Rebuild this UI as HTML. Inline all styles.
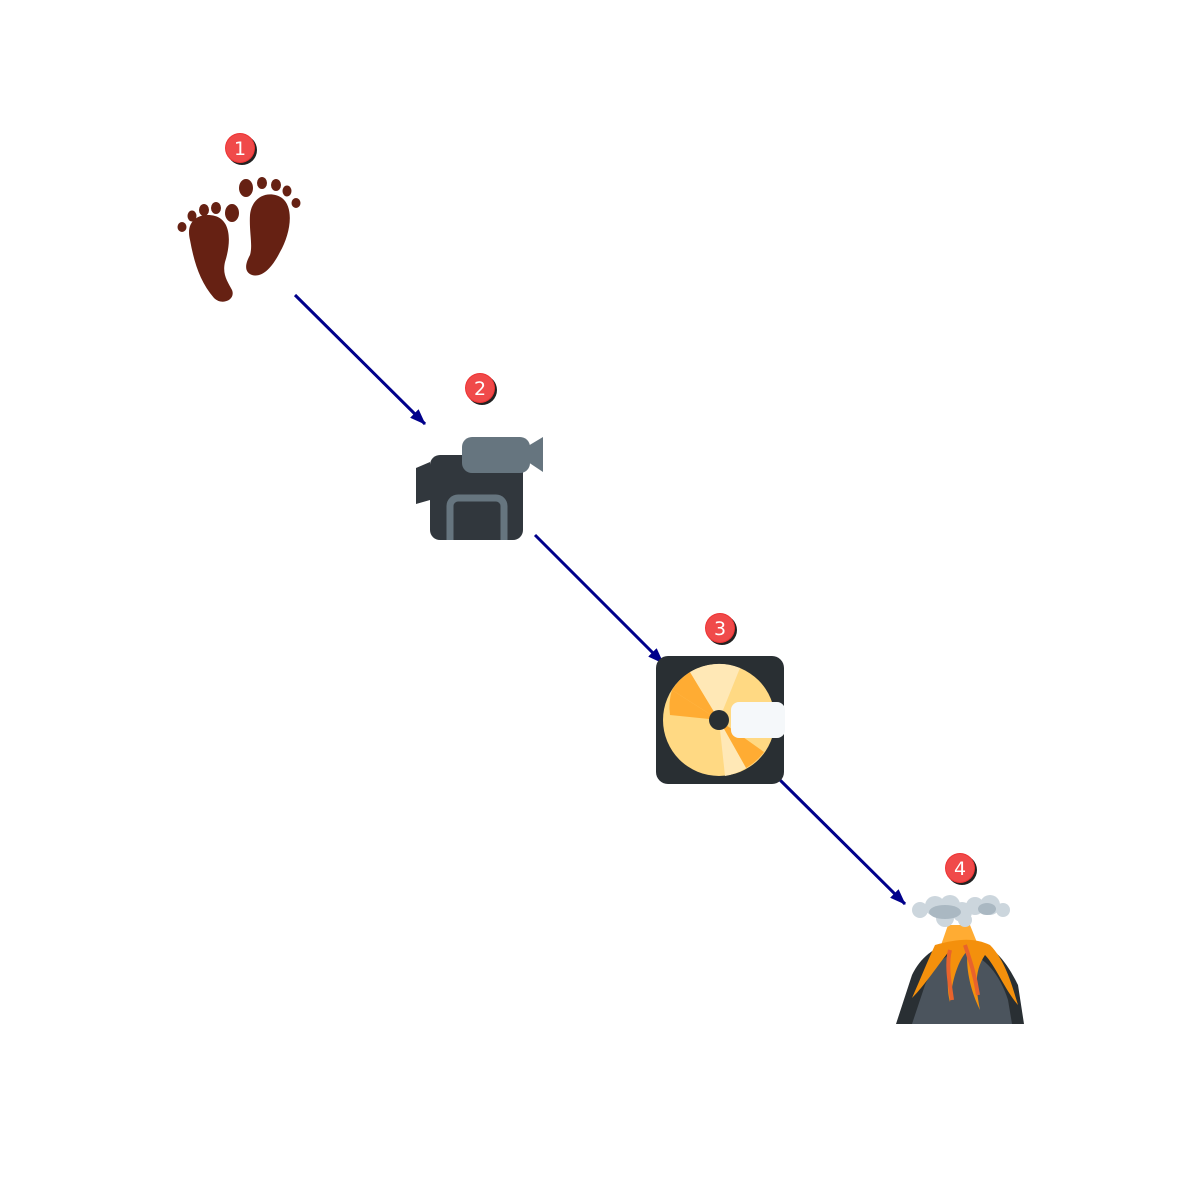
<!DOCTYPE html>
<html><head><meta charset="utf-8"><style>html,body{margin:0;padding:0;background:#fff}svg{display:block}</style></head>
<body>
<svg width="1200" height="1200" viewBox="0 0 1200 1200" xmlns="http://www.w3.org/2000/svg">
<defs>
<marker id="ah" markerWidth="16" markerHeight="12" refX="15" refY="6" orient="auto" markerUnits="userSpaceOnUse">
<path d="M0,0 L16,6 L0,12 z" fill="#00008b"/></marker>
<g id="badge">
<circle cx="2" cy="2" r="15" fill="#222"/>
<circle cx="0" cy="0" r="15" fill="#e33"/>
<circle cx="0" cy="0" r="14" fill="#f04a4a"/>
</g>
<clipPath id="camclip"><rect x="430" y="455" width="93" height="85" rx="10"/></clipPath>
</defs>
<g stroke="#00008b" stroke-width="3" fill="none" marker-end="url(#ah)">
<line x1="295" y1="295" x2="425" y2="424"/>
<line x1="535" y1="535" x2="663" y2="663"/>
<line x1="780" y1="780" x2="905" y2="904"/>
</g>
<!-- feet -->
<g fill="#662113">
<path d="M190,240 C185,220 200,212 215,216 C230,220 232,240 225,262 C222,275 228,282 232,290 C236,300 222,306 214,298 C200,282 194,262 190,240 Z"/>
<ellipse cx="182" cy="227" rx="4.5" ry="5"/>
<ellipse cx="192" cy="216" rx="4.5" ry="5.5"/>
<ellipse cx="204" cy="210" rx="5" ry="6"/>
<ellipse cx="216" cy="208" rx="5" ry="6"/>
<ellipse cx="232" cy="213" rx="7" ry="9"/>
<path d="M250,215 C252,195 270,190 282,198 C295,208 290,235 280,252 C272,268 262,278 252,275 C244,272 245,264 250,255 C253,245 249,232 250,215 Z"/>
<ellipse cx="246" cy="188" rx="7" ry="9"/>
<ellipse cx="262" cy="183" rx="5" ry="6"/>
<ellipse cx="276" cy="185" rx="5" ry="6"/>
<ellipse cx="287" cy="191" rx="4.5" ry="5.5"/>
<ellipse cx="296" cy="203" rx="4.5" ry="5"/>
</g>
<!-- camera -->
<g>
<path d="M416,468 L430,462 L430,500 L416,504 Z" fill="#31373d"/>
<rect x="430" y="455" width="93" height="85" rx="10" fill="#31373d"/>
<g clip-path="url(#camclip)">
<rect x="450" y="498" width="54" height="60" rx="8" fill="none" stroke="#66757f" stroke-width="7"/>
</g>
<rect x="462" y="437" width="68" height="36" rx="10" fill="#66757f"/>
<path d="M528,446 L543,437 L543,472 L528,462 Z" fill="#66757f"/>
</g>
<!-- disk -->
<g>
<rect x="656" y="656" width="128" height="128" rx="12" fill="#292f33"/>
<circle cx="719" cy="720" r="56" fill="#ffd983"/>
<path d="M719,720 L672,690 A56,56 0 0,1 690,672 Z" fill="#ffac33"/>
<path d="M719,720 L670,715 A56,56 0 0,1 672,690 Z" fill="#ffac33"/>
<path d="M719,720 L690,672 A56,56 0 0,1 740,668 Z" fill="#ffe8b6"/>
<path d="M719,720 L764,752 A56,56 0 0,1 746,768 Z" fill="#ffac33"/>
<path d="M719,720 L746,768 A56,56 0 0,1 725,776 Z" fill="#ffe8b6"/>
<circle cx="719" cy="720" r="10" fill="#292f33"/>
<rect x="731" y="702" width="54" height="36" rx="8" fill="#f5f8fa"/>
</g>
<!-- volcano -->
<g>
<path d="M896,1024 L912,975 C920,958 935,946 950,944 L975,942 C995,945 1008,965 1018,985 L1024,1024 Z" fill="#292f33"/>
<path d="M912,1024 L925,985 C935,962 950,950 965,952 C985,956 1000,975 1008,1000 L1012,1024 Z" fill="#4b545d"/>
<path d="M940,948 L948,925 L970,925 L978,945 Z" fill="#ffac33"/>
<path d="M935,945 C960,938 975,938 990,945 C1005,960 1012,985 1018,1005 C1005,990 995,965 985,955 C975,970 975,985 980,1010 C970,990 965,965 968,950 C958,960 952,980 950,1002 C945,985 950,960 950,950 C938,965 925,985 912,998 C920,980 928,960 935,945 Z" fill="#f4900c"/>
<path d="M950,950 C946,965 950,985 952,1000 M965,945 C970,960 975,975 978,995" stroke="#e8632c" stroke-width="4" fill="none"/>
<g fill="#ccd6dd">
<circle cx="920" cy="910" r="8"/><circle cx="935" cy="906" r="10"/><circle cx="950" cy="905" r="10"/><circle cx="962" cy="912" r="10"/><circle cx="975" cy="906" r="9"/><circle cx="990" cy="905" r="10"/><circle cx="1003" cy="910" r="7"/><circle cx="945" cy="918" r="9"/><circle cx="965" cy="920" r="7"/>
</g>
<g fill="#aab8c2">
<ellipse cx="945" cy="912" rx="16" ry="7"/><ellipse cx="987" cy="909" rx="9" ry="6"/>
</g>
</g>
<!-- badges -->
<g font-family="'DejaVu Sans','Liberation Sans',sans-serif" font-size="19" fill="#fff" text-anchor="middle">
<use href="#badge" x="240" y="148"/><text x="240" y="155">1</text>
<use href="#badge" x="480" y="388"/><text x="480" y="395">2</text>
<use href="#badge" x="720" y="628"/><text x="720" y="635">3</text>
<use href="#badge" x="960" y="868"/><text x="960" y="875">4</text>
</g>
</svg>
</body></html>
